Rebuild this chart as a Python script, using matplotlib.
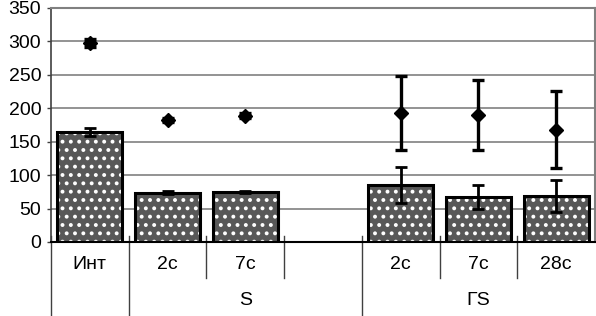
import matplotlib
matplotlib.use("Agg")
import matplotlib.pyplot as plt
import matplotlib.transforms as mtransforms

plt.rcParams['font.family'] = ['Liberation Sans', 'DejaVu Sans']
plt.rcParams['hatch.linewidth'] = 1.6

categories = ["Инт", "2с", "7с", "", "2с", "7с", "28с"]
groups = ["", "S", "ΓS"]
bar_values = [165, 74, 75, None, 85, 68, 69]
bar_errors = [6, 2, 2, None, 27, 18, 24]
point_values = [297, 183, 189, None, 193, 190, 168]
point_errors = [6, 3, 4, None, 56, 52, 58]
y_ticks = [0, 50, 100, 150, 200, 250, 300, 350]

fig = plt.figure(figsize=(5.96, 3.16), dpi=100)
ax = fig.add_axes([51/596, 1-242/316, 544/596, 234/316])

xs = [i for i, v in enumerate(bar_values) if v is not None]
bv = [bar_values[i] for i in xs]
be = [bar_errors[i] for i in xs]
pv = [point_values[i] for i in xs]
pe = [point_errors[i] for i in xs]

ax.set_axisbelow(True)
ax.yaxis.grid(True, color='#808080', linewidth=1.2)
# patterned fill
ax.bar(xs, bv, width=0.84, color='#585858', edgecolor='white', hatch='..', linewidth=0, zorder=2)
ax.bar(xs, bv, width=0.84, fill=False, edgecolor='black', linewidth=2.2, zorder=3)
ax.errorbar(xs, bv, yerr=be, fmt='none', ecolor='black', elinewidth=2.0, capsize=4, capthick=2.0, zorder=4)
ax.errorbar(xs, pv, yerr=pe, fmt='D', color='black', markersize=7, ecolor='black',
            elinewidth=2.4, capsize=4, capthick=2.4, zorder=5)

ax.set_xlim(-0.5, 6.5)
ax.set_ylim(0, 350)
ax.set_yticks(y_ticks)
ax.set_yticklabels([str(t) for t in y_ticks], fontsize=14)
ax.tick_params(axis='y', length=3, width=1, color='#404040', pad=4)
ax.set_xticks([])

for s in ['top', 'right']:
    ax.spines[s].set_color('#808080')
    ax.spines[s].set_linewidth(1.5)
ax.spines['left'].set_color('#404040')
ax.spines['left'].set_linewidth(1.2)
ax.spines['bottom'].set_color('black')
ax.spines['bottom'].set_linewidth(1.5)

trans = mtransforms.blended_transform_factory(ax.transData, ax.transAxes)
# category separators
for x in [1.5, 2.5, 4.5, 5.5]:
    ax.plot([x, x], [0.026, -0.154], transform=trans, color='#404040', lw=1, clip_on=False)
for x in [-0.5, 0.5, 3.5]:
    ax.plot([x, x], [0.026, -0.35], transform=trans, color='#404040', lw=1, clip_on=False)

for i, lab in enumerate(categories):
    ax.text(i, -0.098, lab, transform=trans, ha='center', va='center', fontsize=14)
group_pos = [0, 2, 5]
for g, x in zip(groups, group_pos):
    ax.text(x, -0.248, g, transform=trans, ha='center', va='center', fontsize=14)

fig.savefig("out.png", dpi=100)
